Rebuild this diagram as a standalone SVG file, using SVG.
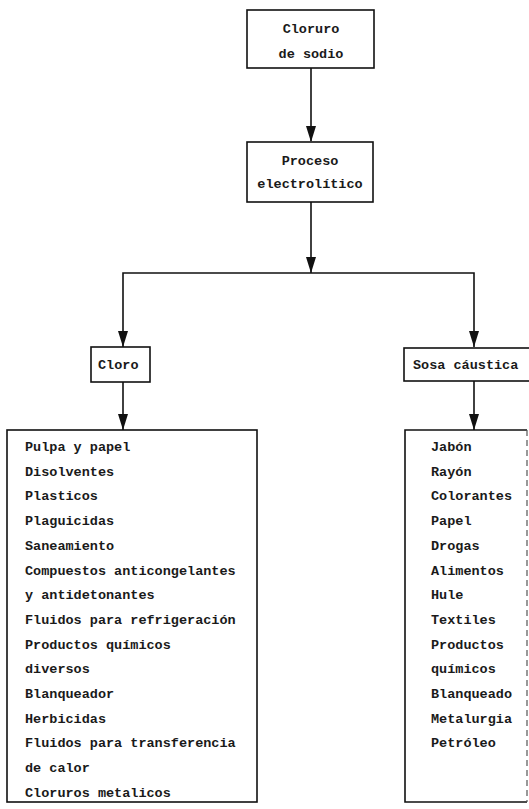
<svg xmlns="http://www.w3.org/2000/svg" width="529" height="809" viewBox="0 0 529 809">
<style>
.box{fill:#fff;stroke:#111;stroke-width:1.6}
.t{font-family:"Liberation Mono","DejaVu Sans Mono",monospace;font-size:13.5px;font-weight:bold;fill:#1a1a1a}
.c{text-anchor:middle}
.ln{stroke:#111;stroke-width:1.6;fill:none}
</style>
<defs>
<marker id="ah" markerWidth="10" markerHeight="16" refX="5" refY="15" orient="auto-start-reverse" markerUnits="userSpaceOnUse" viewBox="0 0 10 16">
<path d="M0,0 L10,0 L5,16 Z" fill="#111"/>
</marker>
</defs>
<rect width="529" height="809" fill="#fff"/>
<g id="connectors">
<line class="ln" x1="311" y1="68" x2="311" y2="141"/>
<path d="M306,126 L316,126 L311,142 Z" fill="#111"/>
<line class="ln" x1="311" y1="202" x2="311" y2="273"/>
<path d="M306,257 L316,257 L311,273 Z" fill="#111"/>
<polyline class="ln" points="123,347 123,273 474,273 474,347"/>
<path d="M118,331 L128,331 L123,347 Z" fill="#111"/>
<path d="M469,331 L479,331 L474,347 Z" fill="#111"/>
<line class="ln" x1="123" y1="382" x2="123" y2="430"/>
<path d="M118,414 L128,414 L123,430 Z" fill="#111"/>
<line class="ln" x1="474" y1="381" x2="474" y2="430"/>
<path d="M469,414 L479,414 L474,430 Z" fill="#111"/>
</g>
<g id="cloruro">
<rect class="box" x="247" y="10" width="127" height="58"/>
<text class="t c" x="311" y="33">Cloruro</text>
<text class="t c" x="311" y="58">de sodio</text>
</g>
<g id="proceso">
<rect class="box" x="247" y="142" width="126" height="60"/>
<text class="t c" x="310" y="165">Proceso</text>
<text class="t c" x="310" y="188">electrolítico</text>
</g>
<g id="cloro">
<rect class="box" x="91" y="347" width="59" height="35"/>
<text class="t" x="98" y="369">Cloro</text>
</g>
<g id="sosa">
<rect class="box" x="404" y="348" width="130" height="33"/>
<text class="t" x="413" y="369">Sosa cáustica</text>
</g>
<g id="usos-cloro">
<rect class="box" x="7" y="430" width="250" height="372"/>
<text class="t" x="25" y="451">Pulpa y papel</text>
<text class="t" x="25" y="475.7">Disolventes</text>
<text class="t" x="25" y="500.4">Plasticos</text>
<text class="t" x="25" y="525.1">Plaguicidas</text>
<text class="t" x="25" y="549.8">Saneamiento</text>
<text class="t" x="25" y="574.5">Compuestos anticongelantes</text>
<text class="t" x="25" y="599.2">y antidetonantes</text>
<text class="t" x="25" y="623.9">Fluidos para refrigeración</text>
<text class="t" x="25" y="648.6">Productos químicos</text>
<text class="t" x="25" y="673.3">diversos</text>
<text class="t" x="25" y="698">Blanqueador</text>
<text class="t" x="25" y="722.7">Herbicidas</text>
<text class="t" x="25" y="747.4">Fluidos para transferencia</text>
<text class="t" x="25" y="772.1">de calor</text>
<text class="t" x="25" y="796.8">Cloruros metalicos</text>
</g>
<g id="usos-sosa">
<path d="M527,430 L405,430 L405,802 L527,802" class="ln"/>
<line x1="527" y1="430" x2="527" y2="802" stroke="#555" stroke-width="1.2" stroke-dasharray="6,4"/>
<text class="t" x="431" y="451">Jabón</text>
<text class="t" x="431" y="475.7">Rayón</text>
<text class="t" x="431" y="500.4">Colorantes</text>
<text class="t" x="431" y="525.1">Papel</text>
<text class="t" x="431" y="549.8">Drogas</text>
<text class="t" x="431" y="574.5">Alimentos</text>
<text class="t" x="431" y="599.2">Hule</text>
<text class="t" x="431" y="623.9">Textiles</text>
<text class="t" x="431" y="648.6">Productos</text>
<text class="t" x="431" y="673.3">químicos</text>
<text class="t" x="431" y="698">Blanqueado</text>
<text class="t" x="431" y="722.7">Metalurgia</text>
<text class="t" x="431" y="747.4">Petróleo</text>
</g>
</svg>
